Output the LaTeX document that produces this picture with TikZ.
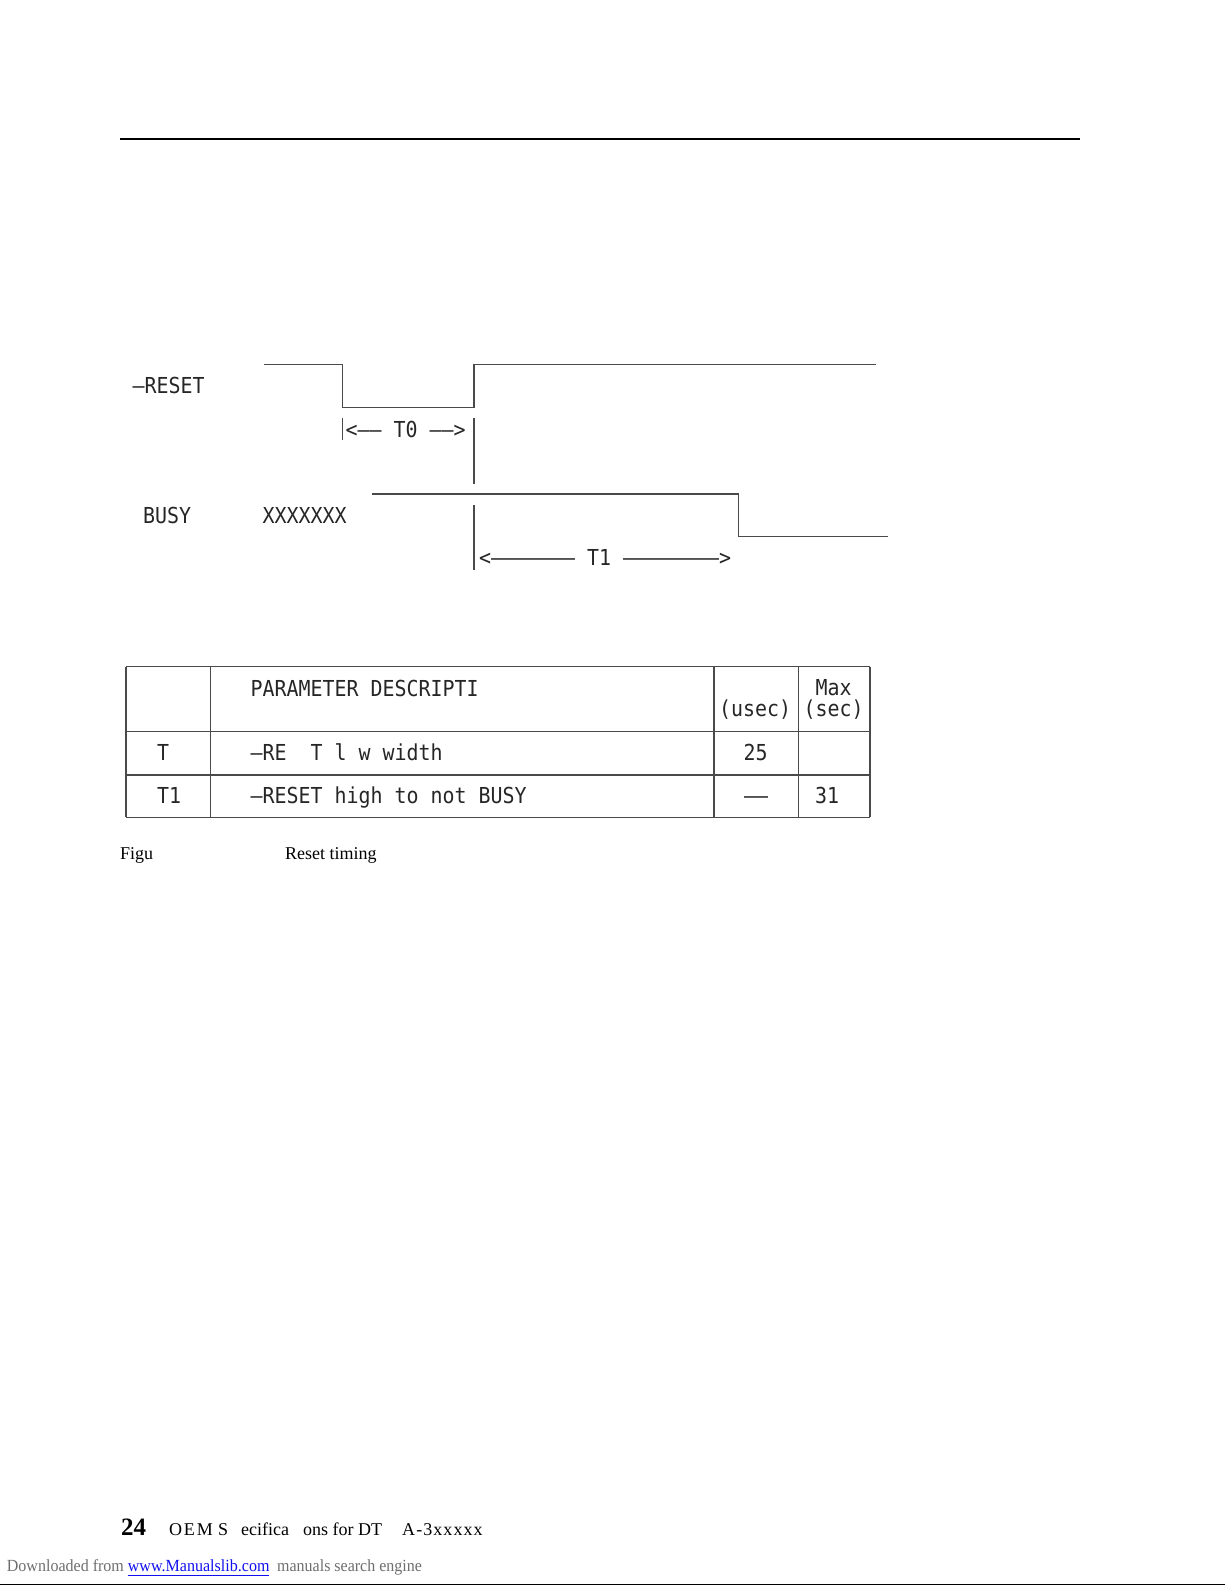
\documentclass[tikz,border=0pt]{standalone}
\usepackage{fontspec}
\setmainfont{Liberation Serif}
\newfontfamily\termfont[FakeStretch=0.906]{DejaVu Sans Mono}
\usepackage{graphicx}
\usepackage{xcolor}
\definecolor{inkgray}{HTML}{4A4A4A}
\definecolor{dlgray}{HTML}{6E6E6E}
\definecolor{linkblue}{HTML}{1010F0}

\tikzset{
  wave/.style={draw=inkgray, line width=1.4pt},
  tabline/.style={draw=inkgray, line width=1.5pt},
  mono/.style={anchor=base west, inner sep=0pt, text=black!85,
    font=\termfont\fontsize{22}{26}\selectfont},
  serif/.style={anchor=base west, inner sep=0pt, font=\fontsize{18}{22}\selectfont},
}

\begin{document}
\begin{tikzpicture}[x=1pt, y=-1pt]
    \useasboundingbox (0,0) rectangle (1225,1585);

    %% page rule on top
    \draw[line width=2.2pt] (120,139) -- (1080,139);

    %% signal names
    \node[mono] (reset) at (132.5,393) {—RESET};
    \node[mono] (busy) at (143,523) {BUSY};
    \node[mono] (xx) at (262.5,523) {XXXXXXX};

    %% -RESET waveform
    \draw[wave] (264,364.3) -- (342.3,364.3) -- (342.3,407.7) -- (474,407.7)
        -- (474,364.3) -- (876,364.3);
    \draw[wave] (342.3,418) -- (342.3,440);
    \draw[wave] (474,418) -- (474,484);
    \node[mono] (tzero) at (345.5,437) {<——~T0~——>};

    %% BUSY waveform
    \draw[wave] (372.3,494) -- (738.3,494) -- (738.3,536.7) -- (888.3,536.7);
    \draw[wave] (474,505) -- (474,570);
    \node[mono] (tone) at (479,565) {<———————~T1~————————>};

    %% table
    \foreach \x in {126,210.7,714,798.3,870}
        \draw[tabline] (\x,666.7) -- (\x,817.3);
    \foreach \y in {666.7,731.7,775,817.3}
        \draw[tabline] (126,\y) -- (870,\y);

    \node[mono] (hdesc) at (250.5,696) {PARAMETER DESCRIPTI};
    \node[mono, text height=15pt] (hmin) at (719,716.5) {(usec)};
    \node[mono, text depth=0pt] (hmax) at (815.5,695) {Max};
    \node[mono, text height=15pt] (hsec) at (803.5,716.5) {(sec)};

    \node[mono] (pzero) at (157,760) {T};
    \node[mono] (dzero) at (250.5,760) {—RE~~T~l~w~width};
    \node[mono] (vzero) at (743.5,760) {25};

    \node[mono] (pone) at (157,803) {T1};
    \node[mono] (done) at (250.5,803) {—RESET high to not BUSY};
    \node[mono] (vone) at (744,803) {——};
    \node[mono] (mone) at (815,803) {31};

    %% caption
    \node[serif] (figno) at (120,859) {Figu};
    \node[serif] (figtext) at (285,859) {Reset timing};

    %% footer
    \node[anchor=base west, inner sep=0pt, font=\bfseries\fontsize{25}{28}\selectfont]
        (pageno) at (121,1535) {24};
    \node[serif, font=\addfontfeature{LetterSpace=10}\fontsize{18}{22}\selectfont]
        (fa) at (169,1535) {OEM};
    \node[serif] (fb) at (218,1535) {S};
    \node[serif] (fc) at (241,1535) {ecifica};
    \node[serif] (fd) at (303,1535) {ons for DT};
    \node[serif, font=\addfontfeature{LetterSpace=6}\fontsize{18}{22}\selectfont]
        (fe) at (402,1535) {A-3xxxxx};

    \node[anchor=base west, inner sep=0pt, text=dlgray, font=\fontsize{17}{20}\selectfont]
        (dla) at (6.7,1571.7) {\resizebox{117pt}{\height}{Downloaded from}};
    \node[anchor=base west, inner sep=0pt, text=linkblue, font=\fontsize{17}{20}\selectfont]
        (dlb) at (127.7,1571.7) {\resizebox{141.6pt}{\height}{www.Manualslib.com}};
    \draw[linkblue, line width=1pt] (dlb.base west) ++(0,3.5) -- ++(141.6,0);
    \node[anchor=base west, inner sep=0pt, text=dlgray, font=\fontsize{17}{20}\selectfont]
        (dlc) at (277,1571.7) {\resizebox{144.7pt}{\height}{manuals search engine}};
    \draw[line width=1.5pt] (0,1584.3) -- (1225,1584.3);

\end{tikzpicture}
\end{document}
